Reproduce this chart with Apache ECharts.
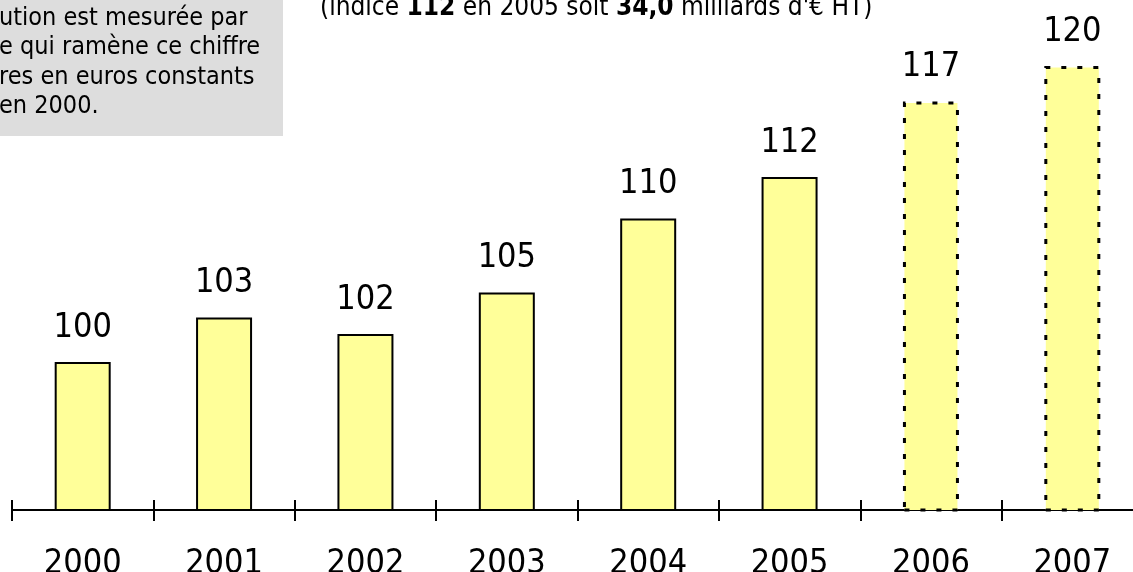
<!DOCTYPE html>
<html>
<head>
<meta charset="utf-8">
<script src="https://cdn.jsdelivr.net/npm/echarts@6/dist/echarts.min.js"></script>
<style>
  html, body { margin: 0; padding: 0; background: #fff; }
  #chart { width: 1133px; height: 572px; }
</style>
</head>
<body>
<div id="chart"></div>
<script>
const annees = ['2000', '2001', '2002', '2003', '2004', '2005', '2006', '2007'];
const valeurs = [100.0, 103.0, 101.9, 104.7, 109.7, 112.5, 117.6, 120.0];
// indices affichés au-dessus des barres
const indices = ['100', '103', '102', '105', '110', '112', '117', '120'];
// 2006 et 2007 : estimations (bordure pointillée)
const estimees = [false, false, false, false, false, false, true, true];

const noteLignes = [
  'ution est mesurée par',
  'e qui ramène ce chiffre',
  'res en euros constants',
  'en 2000.'
];

const police = '"DejaVu Sans Condensed", "DejaVu Sans", sans-serif';
const jaune = '#FFFF99';

const chart = echarts.init(document.getElementById('chart'));

const donnees = valeurs.map((v, i) => ({
  value: v,
  itemStyle: estimees[i]
    ? { color: jaune, borderColor: '#000', borderWidth: 3, borderType: [5, 11] }
    : { color: jaune, borderColor: '#000', borderWidth: 2, borderType: 'solid' }
}));

const option = {
  animation: false,
  backgroundColor: '#fff',
  grid: {
    left: 12,
    right: -10,
    top: 10,
    bottom: 62,
    containLabel: false,
    outerBoundsMode: 'none'
  },
  xAxis: [
    {
      type: 'category',
      data: annees,
      position: 'bottom',
      axisLine: { show: true, onZero: false, lineStyle: { color: '#000', width: 2 } },
      axisTick: { show: true, length: 11, lineStyle: { color: '#000', width: 2 } },
      axisLabel: {
        interval: 0,
        margin: 37,
        color: '#000',
        fontSize: 34,
        fontFamily: police
      },
      splitLine: { show: false }
    },
    {
      // petites graduations au-dessus de l'axe
      type: 'category',
      data: annees,
      position: 'bottom',
      axisLine: { show: false, onZero: false },
      axisTick: { show: true, inside: true, length: 10, lineStyle: { color: '#000', width: 2 } },
      axisLabel: { show: false },
      splitLine: { show: false }
    }
  ],
  yAxis: {
    type: 'value',
    min: 90,
    max: 90 + 500 / 14.8,
    show: false,
    splitLine: { show: false }
  },
  series: [{
    type: 'bar',
    xAxisIndex: 0,
    data: donnees,
    barWidth: 56,
    label: {
      show: true,
      position: 'top',
      distance: 17,
      color: '#000',
      fontSize: 34,
      fontFamily: police,
      formatter: (p) => indices[p.dataIndex]
    }
  }],
  graphic: [
    {
      type: 'rect',
      shape: { x: -10, y: -10, width: 293, height: 146 },
      style: { fill: '#DDDDDD' },
      z: 10
    },
    {
      type: 'text',
      x: -1,
      y: 4,
      z: 11,
      style: {
        text: noteLignes.join('\n'),
        font: '25px ' + police,
        fill: '#000',
        lineHeight: 29.3,
        align: 'left',
        verticalAlign: 'top'
      }
    },
    {
      type: 'text',
      x: 320,
      y: 8,
      z: 11,
      style: {
        text: "{n|(indice }{b|112}{n| en 2005 soit }{b|34,0}{n| milliards d'€ HT)}",
        fill: '#000',
        align: 'left',
        verticalAlign: 'middle',
        rich: {
          n: { font: '26px ' + police, fill: '#000' },
          b: { font: 'bold 26px ' + police, fill: '#000' }
        }
      }
    }
  ]
};

chart.setOption(option);
</script>
</body>
</html>
